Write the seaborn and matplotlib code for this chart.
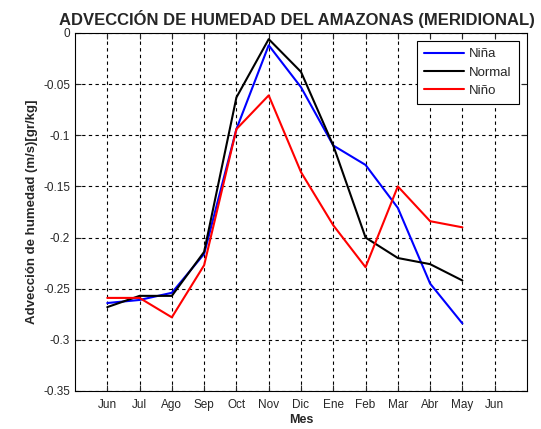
import numpy as np
import pandas as pd
import matplotlib
matplotlib.use("Agg")
import matplotlib.pyplot as plt
import seaborn as sns

# DATOS
meses = ['Jun', 'Jul', 'Ago', 'Sep', 'Oct', 'Nov', 'Dic', 'Ene', 'Feb', 'Mar', 'Abr', 'May']
etiquetas_x = meses + ['Jun']

nina = [-0.264, -0.261, -0.254, -0.216, -0.094, -0.012, -0.053, -0.110, -0.129, -0.171, -0.245, -0.284]
normal = [-0.268, -0.257, -0.257, -0.214, -0.063, -0.006, -0.038, -0.110, -0.200, -0.220, -0.226, -0.242]
nino = [-0.259, -0.259, -0.278, -0.227, -0.094, -0.061, -0.136, -0.188, -0.229, -0.150, -0.184, -0.190]

series = {'Niña': nina, 'Normal': normal, 'Niño': nino}
colores = {'Niña': '#0000ff', 'Normal': '#000000', 'Niño': '#ff0000'}

filas = []
for nombre, vals in series.items():
    for i, v in enumerate(vals):
        filas.append({'pos': i + 1, 'valor': v, 'serie': nombre})
df = pd.DataFrame(filas)

# ESTILO
sns.set_style("ticks")
plt.rcParams['font.family'] = ['Liberation Sans', 'DejaVu Sans']

fig = plt.figure(figsize=(5.41, 4.29), dpi=100)
ax = fig.add_axes([0.1386, 0.0886, 0.8355, 0.8345])

sns.lineplot(data=df, x='pos', y='valor', hue='serie', palette=colores,
             hue_order=list(series.keys()), linewidth=1.5, ax=ax, legend=True)

ax.set_xlim(0, 14)
ax.set_ylim(-0.35, 0)
ax.set_xticks(range(1, 14))
ax.set_xticklabels(etiquetas_x)
ax.set_yticks(np.arange(-0.35, 0.001, 0.05))
ax.set_yticklabels(['-0.35', '-0.3', '-0.25', '-0.2', '-0.15', '-0.1', '-0.05', '0'])

ax.grid(True, color='black', linestyle=(0, (3, 3)), linewidth=0.8)
ax.tick_params(direction='in', top=True, right=True, labelsize=8.5, length=4, width=0.8)
ax.tick_params(axis='x', pad=6)
for s in ax.spines.values():
    s.set_color('black')
    s.set_linewidth(0.8)

ax.set_xlabel('Mes', fontsize=9, fontweight='bold', labelpad=2)
ax.set_ylabel('Advección de humedad (m/s)[gr/kg]', fontsize=9.5, fontweight='bold', labelpad=4)
ax.set_title('ADVECCIÓN DE HUMEDAD DEL AMAZONAS (MERIDIONAL)', fontsize=12,
             fontweight='bold', pad=6, x=0.49)

leg = ax.legend(loc='upper right', fontsize=9.5, frameon=True, fancybox=False,
                edgecolor='black', framealpha=1, handlelength=3.0, borderaxespad=0.6,
                borderpad=0.55, labelspacing=0.45, handletextpad=0.4)
leg.get_frame().set_linewidth(0.8)

fig.savefig('out.png', dpi=100)
